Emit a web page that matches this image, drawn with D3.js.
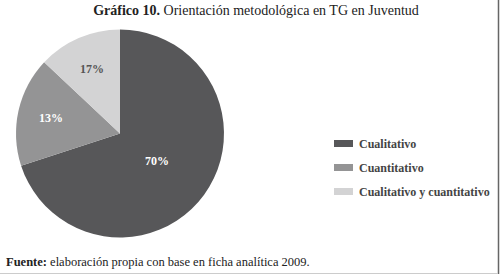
<!DOCTYPE html>
<html>
<head>
<meta charset="utf-8">
<script src="https://cdn.jsdelivr.net/npm/d3@7"></script>
<style>
  body { margin: 0; background: #fff; }
  svg { display: block; font-family: "Liberation Serif", "DejaVu Serif", serif; }
</style>
</head>
<body>
<svg id="pieChart" width="500" height="274"></svg>
<script>
const categories = ["Cualitativo", "Cuantitativo", "Cualitativo y cuantitativo"];
const values = [70, 17, 13];            // slice sizes as drawn
const sliceLabels = ["70%", "13%", "17%"]; // labels as printed
const colors = ["#575759", "#949495", "#d3d3d4"];

function drawPie() {
  const svg = d3.select("#pieChart");
  svg.selectAll("*").remove();

  const radius = 104;
  const g = svg.append("g")
    .attr("transform", "translate(120, 133.5)");

  const color = d3.scaleOrdinal().domain(categories).range(colors);

  const pie = d3.pie().sort(null).value(d => d.value);
  const arc = d3.arc().innerRadius(0).outerRadius(radius);
  const labelArc = d3.arc().innerRadius(radius * 0.68).outerRadius(radius * 0.68);
  const bigArc = d3.arc().innerRadius(radius * 0.44).outerRadius(radius * 0.44);

  const data = categories.map((c, i) => ({ cat: c, value: values[i], label: sliceLabels[i] }));
  const arcs = g.selectAll(".arc")
    .data(pie(data))
    .enter().append("g")
    .attr("class", "arc");

  arcs.append("path")
    .attr("d", arc)
    .attr("fill", d => color(d.data.cat));

  arcs.append("text")
    .attr("transform", (d, i) => {
      const c = (i === 0 ? bigArc : labelArc).centroid(d);
      return `translate(${c[0]}, ${c[1]})`;
    })
    .attr("text-anchor", "middle")
    .attr("dy", "0.35em")
    .attr("font-size", 12)
    .attr("font-weight", "bold")
    .attr("fill", (d, i) => i === 2 ? "#555" : "#fff")
    .text(d => d.data.label);

  // legend
  const legend = svg.append("g").attr("transform", "translate(334, 140)");
  const row = d3.scalePoint().domain(categories).range([0, 48]);
  const items = legend.selectAll(".item")
    .data(categories)
    .enter().append("g")
    .attr("transform", d => `translate(0, ${row(d)})`);
  items.append("rect")
    .attr("width", 19).attr("height", 7)
    .attr("fill", d => color(d));
  items.append("text")
    .attr("x", 25).attr("y", 4)
    .attr("dy", "0.35em")
    .attr("font-size", 12)
    .attr("font-weight", "bold")
    .attr("fill", "#444")
    .text(d => d);

  // title
  const title = svg.append("text")
    .attr("x", 256).attr("y", 15)
    .attr("text-anchor", "middle")
    .attr("font-size", 14)
    .attr("fill", "#222");
  title.append("tspan").attr("font-weight", "bold").text("Gráfico 10.");
  title.append("tspan").text(" Orientación metodológica en TG en Juventud");

  // source
  const src = svg.append("text")
    .attr("x", 6).attr("y", 266)
    .attr("font-size", 12.5)
    .attr("fill", "#222");
  src.append("tspan").attr("font-weight", "bold").text("Fuente:");
  src.append("tspan").text(" elaboración propia con base en ficha analítica 2009.");

  // frame edges
  svg.append("line").attr("x1", 498.5).attr("x2", 498.5).attr("y1", 0).attr("y2", 274)
    .attr("stroke", "#666").attr("stroke-width", 1.5);
  svg.append("line").attr("x1", 0).attr("x2", 498).attr("y1", 273.5).attr("y2", 273.5)
    .attr("stroke", "#ccc").attr("stroke-width", 1);
}

drawPie();
</script>
</body>
</html>
